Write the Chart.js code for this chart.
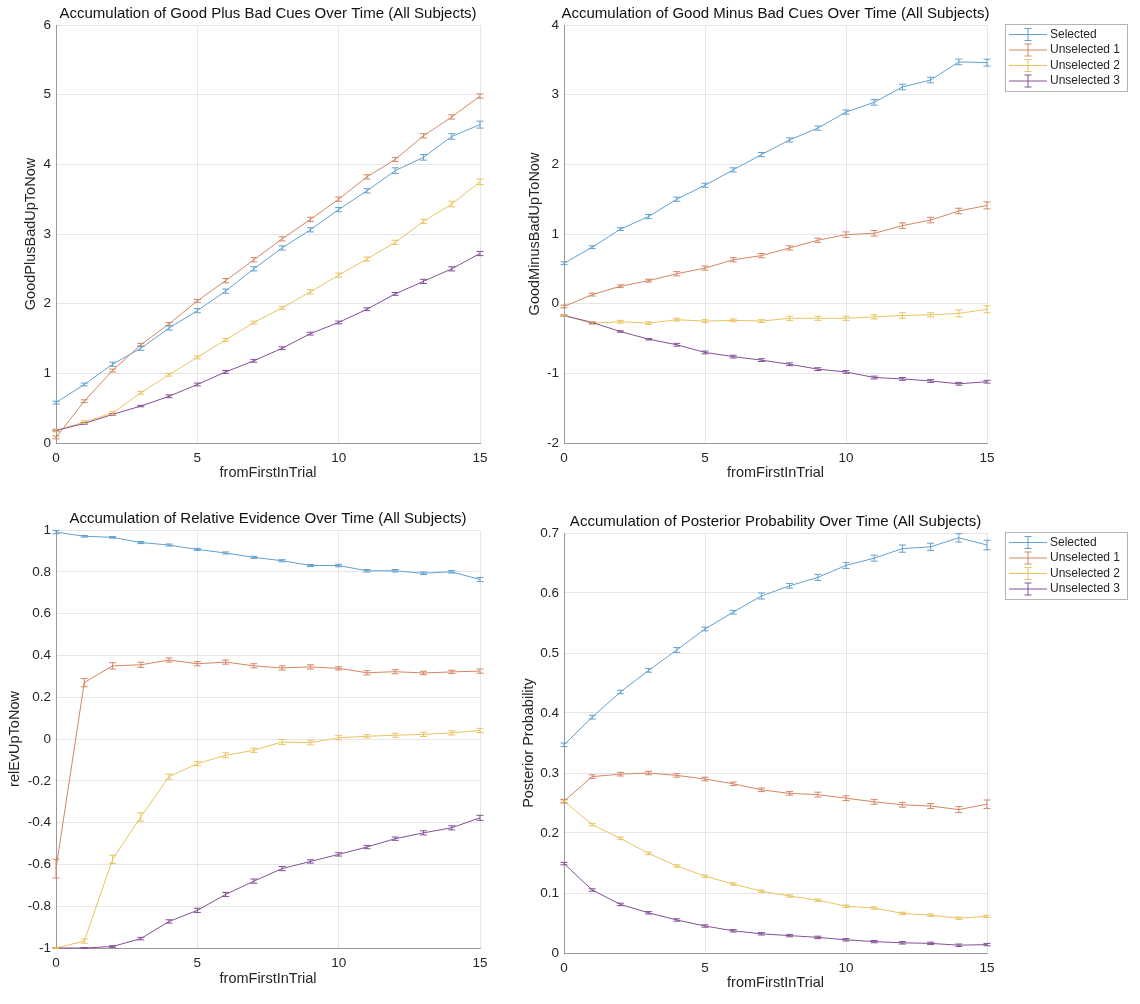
<!DOCTYPE html>
<html>
<head>
<meta charset="utf-8">
<title>Accumulation over time (All Subjects)</title>
<script src="https://cdn.jsdelivr.net/npm/chart.js@4.4.1/dist/chart.umd.min.js"></script>
<style>
	html, body {margin: 0; padding: 0; background: #fff;}
	body {position: relative; width: 1140px; height: 1004px; overflow: hidden;}
	canvas {position: absolute;}
</style>
</head>
<body>
<canvas id="plusBad" width="500" height="500" style="left:0px;top:0px;"></canvas>
<canvas id="minusBad" width="640" height="500" style="left:500px;top:0px;"></canvas>
<canvas id="relEv" width="500" height="504" style="left:0px;top:500px;"></canvas>
<canvas id="posterior" width="640" height="504" style="left:500px;top:500px;"></canvas>
<script>
'use strict';

const trialSteps = [0, 1, 2, 3, 4, 5, 6, 7, 8, 9, 10, 11, 12, 13, 14, 15];
const seriesNames = ['Selected', 'Unselected 1', 'Unselected 2', 'Unselected 3'];
const xTicks = [0, 5, 10, 15];

//good plus bad cues
const plusTicks = [0, 1, 2, 3, 4, 5, 6];
const plusSelected = [0.58, 0.84, 1.13, 1.36, 1.65, 1.90, 2.18, 2.50, 2.80, 3.06, 3.35, 3.62, 3.91, 4.10, 4.40, 4.57];
const plusUnsel1 = [0.08, 0.60, 1.04, 1.41, 1.71, 2.04, 2.33, 2.63, 2.93, 3.21, 3.50, 3.82, 4.07, 4.41, 4.68, 4.98];
const plusUnsel2 = [0.18, 0.30, 0.43, 0.72, 0.98, 1.23, 1.48, 1.73, 1.94, 2.17, 2.41, 2.64, 2.88, 3.18, 3.43, 3.75];
const plusUnsel3 = [0.18, 0.28, 0.41, 0.53, 0.67, 0.84, 1.02, 1.18, 1.36, 1.57, 1.73, 1.92, 2.14, 2.32, 2.50, 2.72];
const plusSelectedErr = [0.02, 0.02, 0.03, 0.03, 0.03, 0.03, 0.03, 0.03, 0.03, 0.03, 0.03, 0.03, 0.04, 0.04, 0.04, 0.05];
const plusUnsel1Err = [0.02, 0.02, 0.02, 0.02, 0.02, 0.02, 0.03, 0.03, 0.03, 0.03, 0.03, 0.03, 0.03, 0.03, 0.03, 0.03];
const plusUnsel2Err = [0.02, 0.02, 0.02, 0.02, 0.02, 0.02, 0.02, 0.02, 0.02, 0.03, 0.03, 0.03, 0.03, 0.03, 0.04, 0.04];
const plusUnsel3Err = [0.01, 0.01, 0.01, 0.01, 0.02, 0.02, 0.02, 0.02, 0.02, 0.02, 0.02, 0.02, 0.02, 0.03, 0.03, 0.03];

//good minus bad cues
const minusTicks = [-2, -1, 0, 1, 2, 3, 4];
const minusSelected = [0.58, 0.81, 1.07, 1.25, 1.50, 1.70, 1.92, 2.14, 2.35, 2.52, 2.75, 2.89, 3.11, 3.21, 3.47, 3.46];
const minusUnsel1 = [-0.04, 0.13, 0.25, 0.33, 0.43, 0.51, 0.63, 0.69, 0.80, 0.91, 0.99, 1.01, 1.12, 1.20, 1.33, 1.41];
const minusUnsel2 = [-0.17, -0.28, -0.26, -0.28, -0.23, -0.25, -0.24, -0.25, -0.21, -0.21, -0.21, -0.19, -0.17, -0.16, -0.14, -0.08];
const minusUnsel3 = [-0.17, -0.27, -0.40, -0.51, -0.59, -0.70, -0.76, -0.81, -0.87, -0.94, -0.98, -1.06, -1.08, -1.11, -1.15, -1.12];
const minusSelectedErr = [0.02, 0.02, 0.02, 0.03, 0.03, 0.03, 0.03, 0.03, 0.03, 0.03, 0.03, 0.04, 0.04, 0.04, 0.04, 0.05];
const minusUnsel1Err = [0.02, 0.02, 0.02, 0.02, 0.03, 0.03, 0.03, 0.03, 0.03, 0.03, 0.04, 0.04, 0.04, 0.04, 0.04, 0.05];
const minusUnsel2Err = [0.01, 0.02, 0.02, 0.02, 0.02, 0.02, 0.02, 0.02, 0.03, 0.03, 0.03, 0.03, 0.04, 0.03, 0.05, 0.05];
const minusUnsel3Err = [0.01, 0.01, 0.01, 0.01, 0.02, 0.02, 0.02, 0.02, 0.02, 0.02, 0.02, 0.02, 0.02, 0.02, 0.02, 0.02];

//relative evidence
const relTicks = [-1, -0.8, -0.6, -0.4, -0.2, 0, 0.2, 0.4, 0.6, 0.8, 1];
const relSelected = [0.99, 0.97, 0.965, 0.94, 0.928, 0.907, 0.89, 0.869, 0.853, 0.83, 0.83, 0.805, 0.805, 0.793, 0.80, 0.763];
const relUnsel1 = [-0.62, 0.27, 0.35, 0.355, 0.378, 0.36, 0.368, 0.35, 0.34, 0.345, 0.338, 0.317, 0.322, 0.316, 0.321, 0.325];
const relUnsel2 = [-1.0, -0.967, -0.576, -0.373, -0.18, -0.118, -0.078, -0.054, -0.014, -0.018, 0.006, 0.013, 0.018, 0.022, 0.029, 0.041];
const relUnsel3 = [-1.0, -1.0, -0.993, -0.955, -0.873, -0.82, -0.744, -0.68, -0.62, -0.586, -0.552, -0.517, -0.477, -0.449, -0.425, -0.377];
const relSelectedErr = [0.008, 0.004, 0.004, 0.005, 0.005, 0.005, 0.005, 0.005, 0.005, 0.005, 0.006, 0.006, 0.006, 0.006, 0.006, 0.01];
const relUnsel1Err = [0.045, 0.02, 0.015, 0.012, 0.01, 0.01, 0.01, 0.01, 0.01, 0.01, 0.008, 0.01, 0.01, 0.008, 0.008, 0.01];
const relUnsel2Err = [0.003, 0.01, 0.02, 0.02, 0.012, 0.01, 0.012, 0.01, 0.012, 0.01, 0.01, 0.008, 0.01, 0.01, 0.01, 0.01];
const relUnsel3Err = [0.002, 0.002, 0.004, 0.006, 0.008, 0.01, 0.01, 0.01, 0.01, 0.008, 0.008, 0.008, 0.008, 0.01, 0.01, 0.012];

//posterior probability
const postTicks = [0, 0.1, 0.2, 0.3, 0.4, 0.5, 0.6, 0.7];
const postSelected = [0.347, 0.393, 0.435, 0.471, 0.505, 0.540, 0.568, 0.595, 0.612, 0.626, 0.646, 0.658, 0.674, 0.677, 0.692, 0.680];
const postUnsel1 = [0.253, 0.294, 0.298, 0.300, 0.296, 0.290, 0.282, 0.272, 0.266, 0.264, 0.258, 0.252, 0.247, 0.245, 0.239, 0.248];
const postUnsel2 = [0.253, 0.214, 0.191, 0.166, 0.145, 0.128, 0.115, 0.103, 0.095, 0.088, 0.078, 0.075, 0.066, 0.063, 0.058, 0.061];
const postUnsel3 = [0.149, 0.105, 0.081, 0.067, 0.055, 0.045, 0.037, 0.032, 0.029, 0.026, 0.022, 0.019, 0.017, 0.016, 0.013, 0.014];
const postSelectedErr = [0.003, 0.003, 0.003, 0.003, 0.004, 0.003, 0.003, 0.005, 0.004, 0.005, 0.005, 0.005, 0.006, 0.006, 0.007, 0.008];
const postUnsel1Err = [0.003, 0.003, 0.003, 0.003, 0.003, 0.003, 0.003, 0.003, 0.003, 0.004, 0.004, 0.004, 0.004, 0.004, 0.005, 0.007];
const postUnsel2Err = [0.002, 0.002, 0.002, 0.002, 0.002, 0.002, 0.002, 0.002, 0.002, 0.002, 0.002, 0.002, 0.002, 0.002, 0.002, 0.002];
const postUnsel3Err = [0.002, 0.002, 0.002, 0.002, 0.002, 0.002, 0.002, 0.002, 0.002, 0.002, 0.002, 0.002, 0.002, 0.002, 0.002, 0.002];

const COLOURS = ['rgb(98,160,207)', 'rgb(212,134,100)', 'rgb(234,195,96)', 'rgb(132,80,150)'];
const FONT = "'Liberation Sans', Arial, Helvetica, sans-serif";
const TEXT = '#262626', GRID = '#e6e6e6', AXIS = '#999999';
const CAP = 3.5;

//panel layout, chart area given relative to its canvas
const panels = [
	{
		id: 'plusBad', width: 500, height: 500,
		area: {left: 56, top: 25, right: 480, bottom: 443},
		title: 'Accumulation of Good Plus Bad Cues Over Time (All Subjects)',
		yLabel: 'GoodPlusBadUpToNow', yLabelX: 31, xLabelY: 473,
		yMin: 0, yMax: 6, yTicks: plusTicks, legend: false,
		values: [plusSelected, plusUnsel1, plusUnsel2, plusUnsel3],
		errors: [plusSelectedErr, plusUnsel1Err, plusUnsel2Err, plusUnsel3Err]
	},
	{
		id: 'minusBad', width: 640, height: 500,
		area: {left: 64, top: 25, right: 487, bottom: 443},
		title: 'Accumulation of Good Minus Bad Cues Over Time (All Subjects)',
		yLabel: 'GoodMinusBadUpToNow', yLabelX: 35, xLabelY: 473,
		yMin: -2, yMax: 4, yTicks: minusTicks, legend: true,
		values: [minusSelected, minusUnsel1, minusUnsel2, minusUnsel3],
		errors: [minusSelectedErr, minusUnsel1Err, minusUnsel2Err, minusUnsel3Err]
	},
	{
		id: 'relEv', width: 500, height: 504,
		area: {left: 56, top: 30, right: 480, bottom: 448},
		title: 'Accumulation of Relative Evidence Over Time (All Subjects)',
		yLabel: 'relEvUpToNow', yLabelX: 15, xLabelY: 479,
		yMin: -1, yMax: 1, yTicks: relTicks, legend: false,
		values: [relSelected, relUnsel1, relUnsel2, relUnsel3],
		errors: [relSelectedErr, relUnsel1Err, relUnsel2Err, relUnsel3Err]
	},
	{
		id: 'posterior', width: 640, height: 504,
		area: {left: 64, top: 33, right: 487, bottom: 453},
		title: 'Accumulation of Posterior Probability Over Time (All Subjects)',
		yLabel: 'Posterior Probability', yLabelX: 29, xLabelY: 483,
		yMin: 0, yMax: 0.7, yTicks: postTicks, legend: true,
		values: [postSelected, postUnsel1, postUnsel2, postUnsel3],
		errors: [postSelectedErr, postUnsel1Err, postUnsel2Err, postUnsel3Err]
	}
];

/** Draws vertical error bars with caps from each dataset's errors list. */
const errorBarPlugin = {
	id: 'errorBars',
	afterDatasetsDraw: (chart) => {
		const {ctx} = chart;
		const xScale = chart.scales.x, yScale = chart.scales.y;
		ctx.save();
		ctx.lineWidth = 1;
		for (let d = chart.data.datasets.length - 1; d >= 0; --d) {
			const dataset = chart.data.datasets[d];
			ctx.strokeStyle = dataset.borderColor;
			dataset.data.forEach((pt, idx) => {
				const err = dataset.errors[idx];
				const px = xScale.getPixelForValue(pt.x);
				const top = yScale.getPixelForValue(pt.y + err), bottom = yScale.getPixelForValue(pt.y - err);
				ctx.beginPath();
				ctx.moveTo(px, top);
				ctx.lineTo(px, bottom);
				ctx.moveTo(px - CAP, top);
				ctx.lineTo(px + CAP, top);
				ctx.moveTo(px - CAP, bottom);
				ctx.lineTo(px + CAP, bottom);
				ctx.stroke();
			});
		}
		ctx.restore();
	}
};

/** Draws axes title centred over chart area, MATLAB style. */
const panelTitlePlugin = {
	id: 'panelTitle',
	afterDraw: (chart, args, options) => {
		const {ctx, chartArea} = chart;
		ctx.save();
		ctx.font = '15px ' + FONT;
		ctx.fillStyle = '#111';
		ctx.textAlign = 'center';
		ctx.textBaseline = 'middle';
		ctx.fillText(options.text, (chartArea.left + chartArea.right) / 2, chartArea.top - 11);
		ctx.restore();
	}
};

/** Draws boxed legend with errorbar glyphs to the right of chart area. */
const boxLegendPlugin = {
	id: 'boxLegend',
	afterDraw: (chart, args, options) => {
		if (!options.display) {
			return;
		}
		const {ctx, chartArea} = chart;
		const left = chartArea.right + 18, top = chartArea.top - 1;
		ctx.save();
		ctx.fillStyle = '#fff';
		ctx.fillRect(left, top, 122, 67);
		ctx.strokeStyle = '#b3b3b3';
		ctx.lineWidth = 1;
		ctx.strokeRect(left + 0.5, top + 0.5, 122, 67);
		ctx.font = '12px ' + FONT;
		ctx.textBaseline = 'middle';
		chart.data.datasets.forEach((dataset, idx) => {
			const y = top + 10.5 + idx * 15.5;
			ctx.strokeStyle = dataset.borderColor;
			ctx.beginPath();
			ctx.moveTo(left + 4, y);
			ctx.lineTo(left + 42, y);
			ctx.moveTo(left + 23, y - 6);
			ctx.lineTo(left + 23, y + 6);
			ctx.moveTo(left + 23 - CAP, y - 6);
			ctx.lineTo(left + 23 + CAP, y - 6);
			ctx.moveTo(left + 23 - CAP, y + 6);
			ctx.lineTo(left + 23 + CAP, y + 6);
			ctx.stroke();
			ctx.fillStyle = TEXT;
			ctx.fillText(dataset.label, left + 45, y);
		});
		ctx.restore();
	}
};

Chart.register(errorBarPlugin, panelTitlePlugin, boxLegendPlugin);

/** Formats tick value without trailing zeros ('1', '0.8', '-0.2').
 * @param {number} value Tick value.
 * @return {string} Label. */
function tickLabel(value) {
	return String(Number(value.toFixed(2)));
}

function setup(panel) {
	const datasets = panel.values.map((values, idx) => ({
		label: seriesNames[idx],
		data: values.map((v, i) => ({x: trialSteps[i], y: v})),
		errors: panel.errors[idx],
		borderColor: COLOURS[idx],
		borderWidth: 1,
		pointRadius: 0,
		order: seriesNames.length - idx,
		clip: false
	}));

	return new Chart(document.getElementById(panel.id), {
		type: 'line',
		data: {
			datasets: datasets
		},
		options: {
			animation: false,
			responsive: false,
			parsing: false,
			layout: {
				padding: {left: 0, bottom: 0, top: panel.area.top, right: panel.width - panel.area.right}
			},
			plugins: {
				legend: {display: false},
				tooltip: {enabled: false},
				panelTitle: {text: panel.title},
				boxLegend: {display: panel.legend}
			},
			scales: {
				x: {
					type: 'linear',
					min: 0,
					max: 15,
					afterBuildTicks: scale => {
						scale.ticks = xTicks.map(v => ({value: v}));
					},
					afterFit: scale => {
						scale.height = panel.height - panel.area.bottom;
					},
					grid: {color: GRID, drawTicks: false},
					border: {color: AXIS, width: 1},
					ticks: {padding: 7, color: TEXT, font: {family: FONT, size: 13.5}, maxRotation: 0, autoSkip: false},
					title: {
						display: true,
						text: 'fromFirstInTrial',
						color: TEXT,
						font: {family: FONT, size: 14.5, lineHeight: 1.2},
						padding: {top: 0, bottom: panel.height - panel.xLabelY - 8.7}
					}
				},
				y: {
					type: 'linear',
					min: panel.yMin,
					max: panel.yMax,
					afterBuildTicks: scale => {
						scale.ticks = panel.yTicks.map(v => ({value: v}));
					},
					afterFit: scale => {
						scale.width = panel.area.left;
					},
					grid: {color: GRID, drawTicks: false},
					border: {color: AXIS, width: 1},
					ticks: {padding: 5, color: TEXT, font: {family: FONT, size: 13.5}, autoSkip: false, callback: tickLabel},
					title: {
						display: true,
						text: panel.yLabel,
						color: TEXT,
						font: {family: FONT, size: 14.5, lineHeight: 1.2},
						padding: {top: panel.yLabelX - 8.7, bottom: 0}
					}
				}
			}
		}
	});
}

panels.forEach(setup);
</script>
</body>
</html>
